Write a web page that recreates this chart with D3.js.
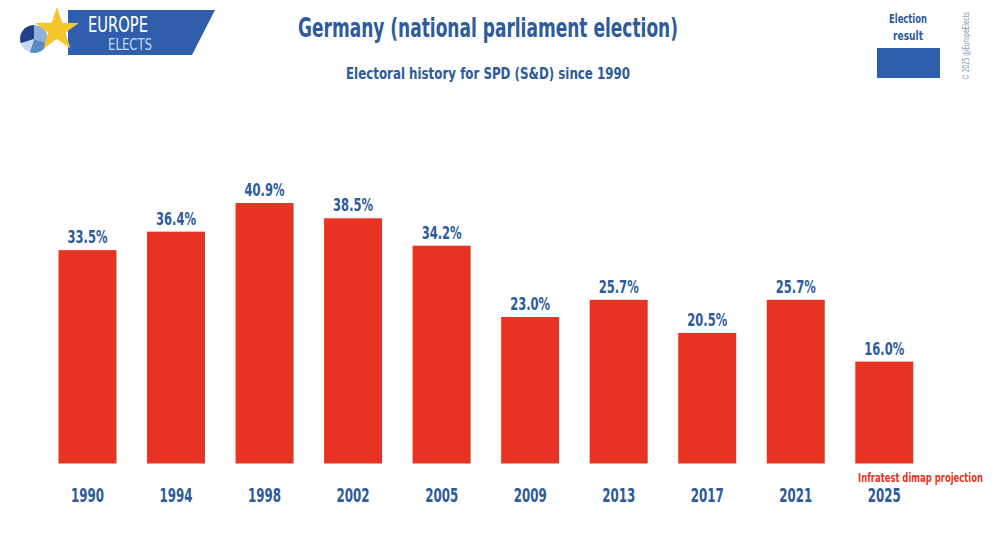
<!DOCTYPE html>
<html><head><meta charset="utf-8">
<script src="https://cdn.jsdelivr.net/npm/d3@7"></script>
<style>body{margin:0;background:#fff}svg{display:block}</style>
</head><body>
<svg id="c" width="1000" height="533"></svg>
<script>
const years = ["1990","1994","1998","2002","2005","2009","2013","2017","2021","2025"];
const values = [33.5, 36.4, 40.9, 38.5, 34.2, 23.0, 25.7, 20.5, 25.7, 16.0];
const valueLabels = ["33.5%","36.4%","40.9%","38.5%","34.2%","23.0%","25.7%","20.5%","25.7%","16.0%"];

const svg = d3.select("#c");
const blue = "#2D5B9B", red = "#E83323", font = "'DejaVu Sans Condensed','DejaVu Sans',sans-serif";
const fit = (sel, w) => sel.attr("textLength", w).attr("lengthAdjust", "spacingAndGlyphs");

const x = d3.scaleBand().domain(years).range([58.5, 913.3]).paddingInner(0.345).paddingOuter(0);
const y = d3.scaleLinear().domain([0, 40.9]).range([463.5, 203]);

svg.selectAll("rect.bar").data(values).join("rect").attr("class","bar")
  .attr("x",(d,i)=>x(years[i])).attr("width",x.bandwidth())
  .attr("y",d=>y(d)).attr("height",d=>y(0)-y(d)).attr("fill",red);

svg.selectAll("text.val").data(values).join("text").attr("class","val")
  .attr("x",(d,i)=>x(years[i])+x.bandwidth()/2).attr("y",d=>y(d)-7)
  .attr("text-anchor","middle").attr("font-family",font).attr("font-weight","bold")
  .attr("font-size",17).attr("fill",blue).text((d,i)=>valueLabels[i])
  .call(fit, 40);

const xAxis = d3.axisBottom(x).tickSize(0).tickPadding(0);
const gx = svg.append("g").attr("transform","translate(0,490)").call(xAxis);
gx.select(".domain").remove();
gx.selectAll("text").attr("font-family",font).attr("font-weight","bold").attr("font-size",19)
  .attr("fill",blue).attr("dy","0.71em").attr("y",-2).call(fit, 33);

svg.append("text").attr("x",920.5).attr("y",482).attr("text-anchor","middle")
  .attr("font-family",font).attr("font-weight","bold").attr("font-size",12.5).attr("fill",red)
  .text("Infratest dimap projection").call(fit, 125);

// Title
svg.append("text").attr("x",488).attr("y",37).attr("text-anchor","middle")
  .attr("font-family",font).attr("font-weight","bold").attr("font-size",26).attr("fill",blue)
  .text("Germany (national parliament election)").call(fit, 380);
svg.append("text").attr("x",488).attr("y",79).attr("text-anchor","middle")
  .attr("font-family",font).attr("font-weight","bold").attr("font-size",16).attr("fill",blue)
  .text("Electoral history for SPD (S&D) since 1990").call(fit, 284);

// Legend
svg.append("text").attr("x",908).attr("y",23).attr("text-anchor","middle")
  .attr("font-family",font).attr("font-weight","bold").attr("font-size",12.5).attr("fill",blue).text("Election").call(fit, 38);
svg.append("text").attr("x",908).attr("y",40).attr("text-anchor","middle")
  .attr("font-family",font).attr("font-weight","bold").attr("font-size",12.5).attr("fill",blue).text("result").call(fit, 30);
svg.append("rect").attr("x",877).attr("y",48).attr("width",63).attr("height",30).attr("fill","#2E5FAD");
svg.append("text").attr("transform","translate(969,46) rotate(-90)").attr("text-anchor","middle")
  .attr("font-family",font).attr("font-size",8).attr("fill","#7a8fb0").text("© 2025 @EuropeElects").call(fit, 68);

// Logo
const logo = svg.append("g");
logo.append("path").attr("d","M68,10 L215,10 L192,55 L68,55 Z").attr("fill","#2F5FAC");
const pie = d3.pie().sort(null)([30,25,15,30]);
const arc = d3.arc().innerRadius(0).outerRadius(14);
const pieCols = ["#8FB2DB","#5B89C6","#C9DAEF","#233F86"];
logo.append("g").attr("transform","translate(34,39)").selectAll("path").data(pie).join("path")
  .attr("d",arc).attr("fill",(d,i)=>pieCols[i]);
const star = d3.range(10).map(i=>{const r=i%2?9:23;const a=-Math.PI/2+i*Math.PI/5;return [57+r*Math.cos(a),30+r*Math.sin(a)];});
logo.append("polygon").attr("points",star.map(p=>p.join(",")).join(" ")).attr("fill","#F5C629");
logo.append("text").attr("x",88).attr("y",32).attr("font-family",font).attr("font-size",21)
  .attr("fill","#fff").text("EUROPE").call(fit, 60);
logo.append("text").attr("x",108).attr("y",50).attr("font-family",font).attr("font-size",16)
  .attr("fill","#C8D8F0").text("ELECTS").call(fit, 44);
</script>
</body></html>
